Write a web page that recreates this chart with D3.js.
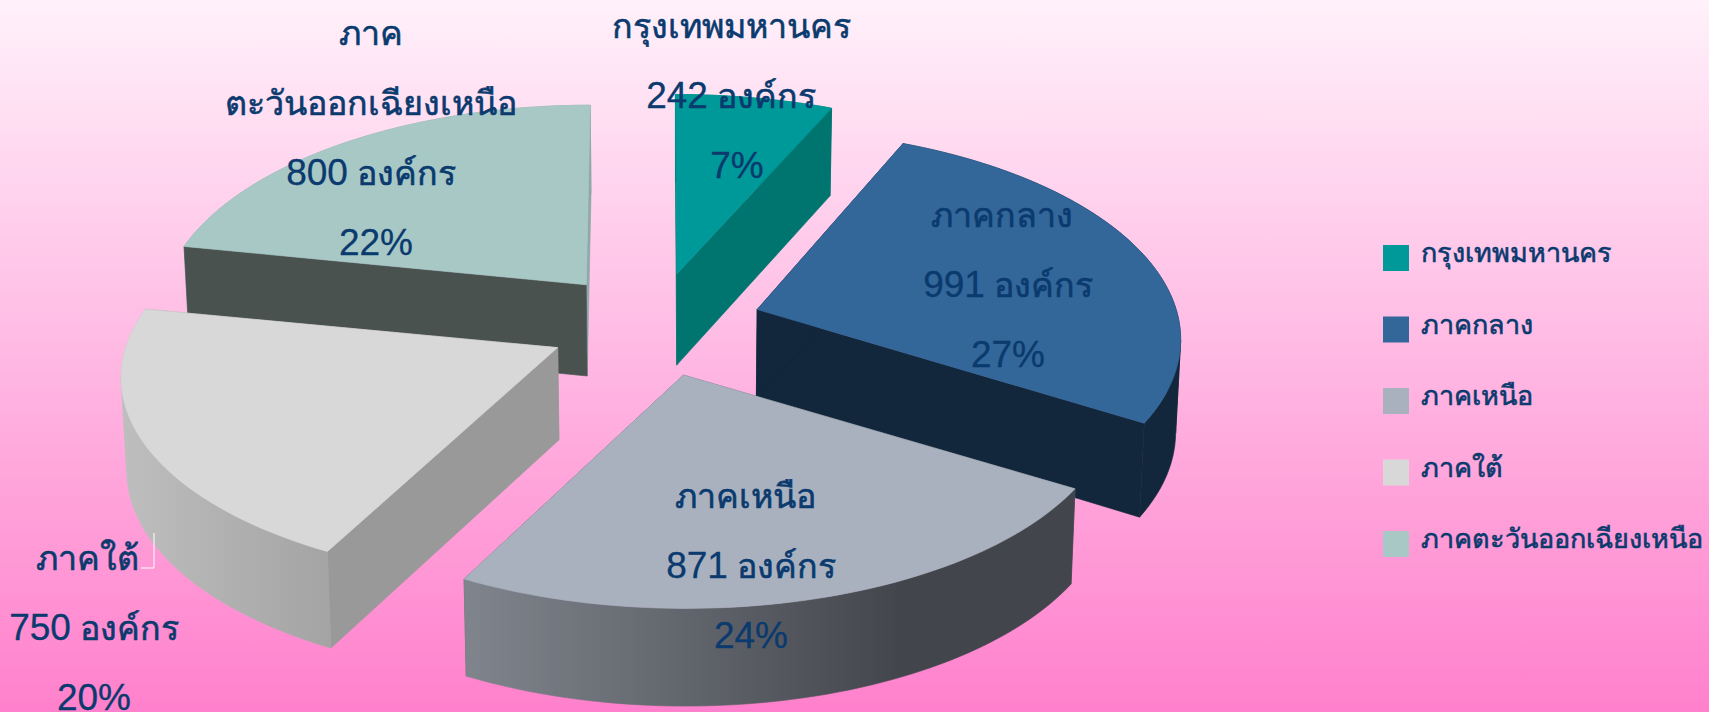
<!DOCTYPE html>
<html><head><meta charset="utf-8">
<script src="https://cdn.jsdelivr.net/npm/d3@7/dist/d3.min.js"></script>
<style>html,body{margin:0;padding:0;overflow:hidden;background:#fff}svg{display:block}</style>
</head><body><svg id="c" width="1709" height="712"></svg>
<script>
const categories = ["กรุงเทพมหานคร","ภาคกลาง","ภาคเหนือ","ภาคใต้","ภาคตะวันออกเฉียงเหนือ"];
const organisations = [242,991,871,750,800];
const percentLabels = ["7%","27%","24%","20%","22%"];
const unit = "องค์กร";
const topColors = ["#009999","#336699","#A9B1BF","#D8D8D8","#A8C8C6"];
const wallStartColors = ["#00756F","#12273B","#5A5E66","#999999","#4A5250"];
const wallEndColors = ["#00756F","#12273B","#5A5E66","#999999","#8FA9A8"];
const sideStart = ["#00756F","#12273B","#80858D","#BEBEBE","#8FA9A8"];
const sideEnd = ["#00756F","#12273B","#43454C","#A4A4A4","#8FA9A8"];
const drawOrder = [0,4,1,3,2];
const sideOverWalls = [true,true,true,true,false];
const labelFirstLines = [["กรุงเทพมหานคร"],["ภาคกลาง"],["ภาคเหนือ"],["ภาคใต้"],["ภาค","ตะวันออกเฉียงเหนือ"]];
const labelAnchor = [[731,38],[1008,227],[751,508],[94,570],[371,45]];
const firstLineShift = [0,-6,-6,-7,0];
const percentLineShift = [6,0,0,0,5];
const sliceScale = [1,0.97,0.988,1,0.975];
const THAI = '"Noto Sans","DejaVu Sans",sans-serif', LATIN = '"Liberation Sans",Arial,sans-serif';

const W=1709,H=712, cx=654.5, cy=325, R=432, K=203, P=0.13, EXPL=0.25, EX=430, EY=208, PK=0.5;
const svg=d3.select("#c"), defs=svg.append("defs");
const bg=defs.append("linearGradient").attr("id","bg").attr("x1",0).attr("y1",0).attr("x2",0).attr("y2",1);
bg.append("stop").attr("offset",0).attr("stop-color","#FFF1FA");
bg.append("stop").attr("offset",1).attr("stop-color","#FF80CC");
svg.append("rect").attr("width",W).attr("height",H).attr("fill","url(#bg)");

const arcs=d3.pie().sort(null).value(d=>d)(organisations);
const project=(a,apex,sc)=>{const s=1/(1+P*Math.cos(a));return [apex[0]+R*sc*Math.sin(a)*s+(apex[0]-cx)*(s-1)*PK, apex[1]-K*Math.cos(a)*s];};
const lower=p=>[680+(p[0]-680)*0.99, p[1]+92+(p[1]-325)*0.02];
const line=d3.line();
const steps=a=>d3.range(0,61).map(i=>a.startAngle+(a.endAngle-a.startAngle)*i/60);
const face=(g,pts,fill)=>g.append("path").attr("d",line(pts)+"Z").attr("fill",fill).attr("stroke",fill).attr("stroke-width",0.6).attr("stroke-linejoin","round");

drawOrder.forEach(i=>{
  const a=arcs[i], mid=(a.startAngle+a.endAngle)/2;
  const apex=[cx+EX*EXPL*Math.sin(mid), cy-EY*EXPL*Math.cos(mid)];
  const rim=steps(a).map(t=>project(t,apex,sliceScale[i]));
  const g=svg.append("g");
  const pS=rim[0], pE=rim[rim.length-1], ab=lower(apex);
  const xs=d3.extent(rim,d=>d[0]);
  const grad=defs.append("linearGradient").attr("id","s"+i).attr("gradientUnits","userSpaceOnUse")
    .attr("x1",xs[0]).attr("x2",i===2?xs[1]-170:xs[1]).attr("y1",0).attr("y2",0);
  grad.append("stop").attr("offset",0).attr("stop-color",sideStart[i]);
  grad.append("stop").attr("offset",1).attr("stop-color",sideEnd[i]);
  const walls=()=>{
    face(g,[apex,pE,lower(pE),ab],wallEndColors[i]);
    face(g,[apex,pS,lower(pS),ab],wallStartColors[i]);
  };
  // the outer wall folds at the rim's left and right extremes: split it there
  const side=()=>{
    const folds=[0,d3.greatestIndex(rim,d=>d[0]),d3.leastIndex(rim,d=>d[0]),rim.length-1].sort((p,q)=>p-q);
    d3.pairs(folds).forEach(([p,q])=>{
      if(q<=p) return;
      const part=rim.slice(p,q+1);
      face(g,part.concat(part.map(lower).reverse()),`url(#s${i})`);
    });
  };
  if(sideOverWalls[i]){walls();side();}else{side();walls();}
  face(g,[apex].concat(rim),topColors[i]);
});

// data labels: digits and % in a Latin face, Thai in a slightly smaller one
const runs=t=>t.split(/(?<=[0-9%])(?=[^0-9%])|(?<=[^0-9%])(?=[0-9%])/);
categories.forEach((c,i)=>{
  const lines=labelFirstLines[i].concat([`${organisations[i]} ${unit}`,percentLabels[i]]);
  const [x,y0]=labelAnchor[i];
  lines.forEach((t,k)=>{
    const dx=k===0?firstLineShift[i]:(k===lines.length-1?percentLineShift[i]:0);
    const el=svg.append("text").attr("x",x+dx).attr("y",y0+k*70).attr("text-anchor","middle").attr("fill","#0A3A6E");
    runs(t).forEach(r=>{
      const latin=/[0-9%]/.test(r);
      el.append("tspan").attr("font-family",latin?LATIN:THAI).attr("font-size",latin?37:34)
        .attr("stroke","#0A3A6E").attr("stroke-width",latin?0.3:0.6).text(r);
    });
  });
});
// leader
svg.append("path").attr("d",line([[154,533],[154,568],[141,568]])).attr("fill","none").attr("stroke","#fff").attr("stroke-width",1);

// legend
const ly=d3.scalePoint().domain(categories).range([245,531]);
categories.forEach((c,i)=>{
  svg.append("rect").attr("x",1383).attr("y",ly(c)).attr("width",26).attr("height",26).attr("fill",topColors[i]);
  svg.append("text").attr("x",1421).attr("y",ly(c)+17).attr("font-family",THAI).attr("font-size",27)
    .attr("stroke","#0A3A6E").attr("stroke-width",0.6).attr("fill","#0A3A6E").text(c);
});
</script></body></html>
